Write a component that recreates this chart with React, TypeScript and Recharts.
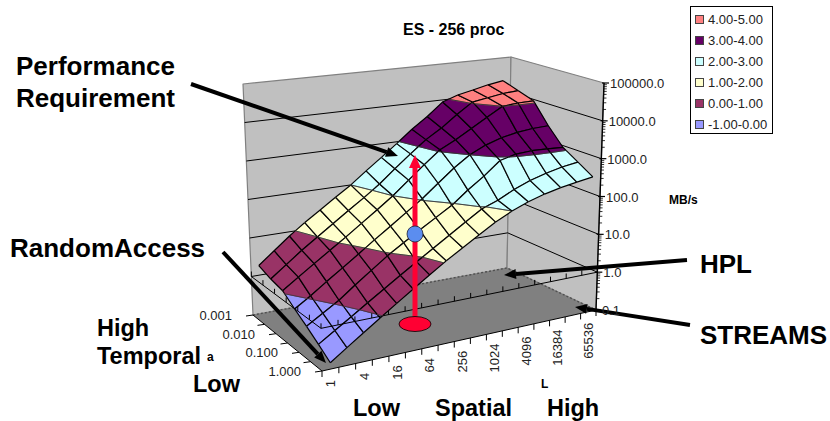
import { Scatter, ScatterChart, XAxis, YAxis } from "recharts";

const WIDTH = 830;
const HEIGHT = 421;

// axis categories
const spatialLabels = ["1", "", "4", "", "16", "", "64", "", "256", "", "1024", "", "4096", "", "16384", "", "65536"];
const temporalLabels = ["1.000", "", "0.100", "", "0.010", "", "0.001"];
const valueLabels = ["0.1", "1.0", "10.0", "100.0", "1000.0", "10000.0", "100000.0"];

// log10(MB/s), one row per temporal step, front (1.000) to back (0.001)
const rowT0 = [-0.85, -0.58, -0.31, -0.04, 0.23, 0.5, 0.77, 1.04, 1.29, 1.54, 1.79, 2.0, 2.17, 2.3, 2.4, 2.48, 2.55];
const rowT1 = [-0.63, -0.38, -0.13, 0.13, 0.39, 0.65, 0.91, 1.17, 1.43, 1.7, 1.96, 2.12, 2.33, 2.5, 2.63, 2.73, 2.8];
const rowT2 = [-0.41, -0.17, 0.07, 0.37, 0.66, 0.95, 1.21, 1.46, 1.71, 1.96, 2.29, 2.59, 2.94, 3.05, 3.08, 3.07, 3.05];
const rowT3 = [-0.2, 0.05, 0.33, 0.6, 0.88, 1.17, 1.45, 1.74, 2.03, 2.37, 2.71, 3.0, 3.2, 3.34, 3.43, 3.48, 3.5];
const rowT4 = [0.04, 0.31, 0.58, 0.85, 1.12, 1.41, 1.7, 2.0, 2.35, 2.7, 3.04, 3.25, 3.5, 3.75, 4.0, 4.04, 4.05];
const rowT5 = [0.12, 0.42, 0.72, 1.0, 1.28, 1.56, 1.84, 2.14, 2.49, 2.83, 3.16, 3.42, 3.74, 4.03, 4.1, 4.17, 4.2];
const rowT6 = [0.25, 0.57, 0.89, 1.18, 1.45, 1.73, 2.0, 2.32, 2.63, 2.95, 3.29, 3.59, 3.94, 4.09, 4.18, 4.28, 4.35];
const rows = [rowT0, rowT1, rowT2, rowT3, rowT4, rowT5, rowT6];

const bandNames = ["4.00-5.00", "3.00-4.00", "2.00-3.00", "1.00-2.00", "0.00-1.00", "-1.00-0.00"];
const bandLows = [4, 3, 2, 1, 0, -1];
const bandColors = ["#ff8080", "#660066", "#ccffff", "#ffffcc", "#993366", "#9999ff"];

// corners of the 3D box on screen: [s, t] = spatial, temporal position
const floorCorners = { a: [322, 371], c: [596, 310], b: [253, 315], d: [507, 268] };
const topCorners = { a: [316, 115], c: [604, 83], b: [243, 84], d: [511, 57] };

const lerp = (p: number, q: number, u: number) => p + (q - p) * u;
const perspective = (s: number) => (s * 1.05) / (1 + 0.05 * s);

function project(s: number, t: number, z: number) {
  const u = perspective(s);
  const h = (z + 1) / 6;
  const corner = (box: typeof floorCorners, i: number) =>
    lerp(lerp(box.a[i], box.c[i], u), lerp(box.b[i], box.d[i], u), t);
  return {
    x: lerp(corner(floorCorners, 0), corner(topCorners, 0), h),
    y: lerp(corner(floorCorners, 1), corner(topCorners, 1), h),
  };
}

const spatialAt = (k: number) => (k + 0.5) / 17;
const temporalAt = (j: number) => j / 6;

type Pt = { x: number; y: number };
type Item = { pts: Pt[]; fill?: string; stroke?: string; width?: number; dash?: string; closed?: boolean };
type V = { s: number; t: number; z: number };

function clipAbove(poly: V[], level: number, keepAbove: boolean) {
  const out: V[] = [];
  const inside = (v: V) => (keepAbove ? v.z >= level : v.z <= level);
  poly.forEach((v, i) => {
    const n = poly[(i + 1) % poly.length];
    if (inside(v)) out.push(v);
    if (inside(v) !== inside(n)) {
      const u = (level - v.z) / (n.z - v.z);
      out.push({ s: lerp(v.s, n.s, u), t: lerp(v.t, n.t, u), z: level });
    }
  });
  return out;
}

const toPt = (v: V) => project(v.s, v.t, v.z);

function surfaceItems(lows: number[]) {
  const items: Item[] = [];
  for (let j = rows.length - 2; j >= 0; j--) {
    for (let k = 0; k < 16; k++) {
      const quad: V[] = [
        { s: spatialAt(k), t: temporalAt(j), z: rows[j][k] },
        { s: spatialAt(k + 1), t: temporalAt(j), z: rows[j][k + 1] },
        { s: spatialAt(k + 1), t: temporalAt(j + 1), z: rows[j + 1][k + 1] },
        { s: spatialAt(k), t: temporalAt(j + 1), z: rows[j + 1][k] },
      ];
      const edges: Item[] = [];
      lows.forEach((lo) => {
        const color = bandColors[bandLows.indexOf(lo)];
        const frag = clipAbove(clipAbove(quad, lo, true), lo + 1, false);
        if (frag.length < 3) return;
        items.push({ pts: frag.map(toPt), fill: color, stroke: color, width: 0.5, closed: true });
        frag.forEach((v, i) => {
          const n = frag[(i + 1) % frag.length];
          const onContour = v.z === n.z && (v.z === lo || v.z === lo + 1);
          edges.push({
            pts: [toPt(v), toPt(n)],
            stroke: onContour ? "#333333" : "#000000",
            width: onContour ? 0.7 : 1.2,
          });
        });
      });
      items.push(...edges);
    }
  }
  return items;
}

function boxItems() {
  const items: Item[] = [];
  // back and right walls
  items.push({
    pts: [project(0, 1, -1), project(0, 1, 5), project(1, 1, 5), project(1, 1, -1)],
    fill: "#c0c0c0",
    stroke: "#808080",
    width: 1.2,
    closed: true,
  });
  items.push({
    pts: [project(1, 1, -1), project(1, 1, 5), project(1, 0, 5), project(1, 0, -1)],
    fill: "#c0c0c0",
    stroke: "#808080",
    width: 1.2,
    closed: true,
  });
  valueLabels.forEach((_, i) => {
    const z = i - 1;
    if (i === 0 || i === 6) return;
    items.push({ pts: [project(0, 1, z), project(1, 1, z), project(1, 0, z)], stroke: "#000000", width: 1 });
  });
  // floor
  items.push({
    pts: [project(0, 0, -1), project(1, 0, -1), project(1, 1, -1), project(0, 1, -1)],
    fill: "#808080",
    closed: true,
  });
  items.push({ pts: [project(0, 1, -1), project(1, 1, -1), project(1, 0, -1)], stroke: "#505050", width: 1.4, dash: "2 2" });
  // front axis edges and ticks
  items.push({ pts: [project(0, 1, -1), project(0, 0, -1), project(1, 0, -1)], stroke: "#000000", width: 1 });
  for (let k = 0; k <= 17; k++) {
    const p = project(k / 17, 0, -1);
    items.push({ pts: [p, { x: p.x, y: p.y + 6 }], stroke: "#000000", width: 1 });
  }
  for (let j = 0; j <= 6; j++) {
    const p = project(0, j / 6, -1);
    items.push({ pts: [p, { x: p.x - 7, y: p.y + 1 }], stroke: "#000000", width: 1 });
  }
  // value axis with log minor ticks
  items.push({ pts: [project(1, 0, -1), project(1, 0, 5)], stroke: "#000000", width: 1.4 });
  valueLabels.forEach((_, i) => {
    const p = project(1, 0, i - 1);
    items.push({ pts: [{ x: p.x - 2, y: p.y }, { x: p.x + 5, y: p.y }], stroke: "#000000", width: 1.2 });
    if (i === 6) return;
    [2, 3, 4, 5, 6, 7, 8, 9].forEach((m) => {
      const q = project(1, 0, i - 1 + Math.log10(m));
      items.push({ pts: [{ x: q.x, y: q.y }, { x: q.x + 3, y: q.y }], stroke: "#000000", width: 0.8 });
    });
  });
  return items;
}

function frameItems() {
  // the 1.0 MB/s outline running round the front of the box
  const items: Item[] = [
    { pts: [project(0, 1, 0), project(0, 0, 0), project(1, 0, 0)], stroke: "#000000", width: 1 },
  ];
  for (let k = 0; k <= 17; k++) {
    const p = project(k / 17, 0, 0);
    items.push({ pts: [p, { x: p.x, y: p.y - 5 }], stroke: "#000000", width: 1 });
  }
  for (let j = 1; j <= 6; j++) {
    const p = project(0, j / 6, 0);
    items.push({ pts: [p, { x: p.x, y: p.y - 5 }], stroke: "#000000", width: 1 });
  }
  return items;
}

function arrowItems(from: Pt, tip: Pt, color: string, width: number, headLen: number, headWide: number) {
  const dx = tip.x - from.x;
  const dy = tip.y - from.y;
  const len = Math.hypot(dx, dy);
  const ux = dx / len;
  const uy = dy / len;
  const base = { x: tip.x - ux * headLen, y: tip.y - uy * headLen };
  return [
    { pts: [from, base], stroke: color, width },
    {
      pts: [
        tip,
        { x: base.x - uy * headWide, y: base.y + ux * headWide },
        { x: base.x + uy * headWide, y: base.y - ux * headWide },
      ],
      fill: color,
      closed: true,
    },
  ] as Item[];
}

const blackArrows = [
  { from: { x: 191, y: 84 }, tip: { x: 398, y: 156 } },
  { from: { x: 223, y: 252 }, tip: { x: 326, y: 363 } },
  { from: { x: 687, y: 260 }, tip: { x: 504, y: 275 } },
  { from: { x: 690, y: 325 }, tip: { x: 575, y: 307 } },
];

const annotations = [
  { x: 16, y: 75, text: "Performance", size: 26 },
  { x: 16, y: 107, text: "Requirement", size: 26 },
  { x: 10, y: 257, text: "RandomAccess", size: 26 },
  { x: 97, y: 336, text: "High", size: 23.5 },
  { x: 97, y: 364, text: "Temporal", size: 23.5 },
  { x: 193, y: 392, text: "Low", size: 23.5 },
  { x: 353, y: 416, text: "Low", size: 23.5 },
  { x: 435, y: 416, text: "Spatial", size: 23.5 },
  { x: 547, y: 416, text: "High", size: 23.5 },
  { x: 700, y: 273, text: "HPL", size: 26 },
  { x: 700, y: 344, text: "STREAMS", size: 26 },
  { x: 403, y: 35, text: "ES - 256 proc", size: 16 },
  { x: 207, y: 361, text: "a", size: 12 },
  { x: 541, y: 388, text: "L", size: 12 },
  { x: 669, y: 204, text: "MB/s", size: 12 },
];

const spatialTicks = spatialLabels
  .map((label, k) => ({ ...project(spatialAt(k), 0, -1), label }))
  .filter((d) => d.label);
const temporalTicks = temporalLabels
  .map((label, j) => ({ ...project(0, temporalAt(j), -1), label }))
  .filter((d) => d.label);
const valueTicks = valueLabels.map((label, i) => ({ ...project(1, 0, i - 1), label }));

const markerEllipse = [{ x: 415, y: 324 }];
const markerCircle = [{ x: 415, y: 234 }];

const FONT = "Liberation Sans, Arial, sans-serif";
const noDot = () => <g />;

// one Scatter whose joint line draws all the outlines, so every point goes through the chart scales
function drawLayer(items: Item[], key: string) {
  const data = items.flatMap((it) => it.pts);
  const renderItems = (props: any) => {
    let at = 0;
    return (
      <g>
        {items.map((it, i) => {
          const pts = props.points.slice(at, at + it.pts.length);
          at += it.pts.length;
          const text = pts.map((p: Pt) => `${p.x},${p.y}`).join(" ");
          const common = {
            points: text,
            fill: it.fill ?? "none",
            stroke: it.stroke ?? "none",
            strokeWidth: it.width ?? 0,
            strokeDasharray: it.dash,
            strokeLinejoin: "round" as const,
          };
          return it.closed ? <polygon key={i} {...common} /> : <polyline key={i} {...common} />;
        })}
      </g>
    );
  };
  return <Scatter key={key} data={data} line={renderItems} shape={noDot} isAnimationActive={false} />;
}

function LegendBox() {
  return (
    <div
      style={{
        position: "absolute",
        left: 690,
        top: 6,
        width: 81,
        height: 126,
        border: "1px solid #000",
        background: "#fff",
        boxSizing: "content-box",
        fontFamily: FONT,
        fontSize: 13,
        color: "#222",
      }}
    >
      {bandNames.map((name, i) => (
        <div key={name} style={{ position: "absolute", left: 4, top: 3.5 + i * 21, height: 17, display: "flex", alignItems: "center", whiteSpace: "nowrap" }}>
          <span style={{ width: 7, height: 7, background: bandColors[i], border: "1px solid #444", marginRight: 4 }} />
          {name}
        </div>
      ))}
    </div>
  );
}

export default function App() {
  return (
    <div style={{ position: "absolute", left: 0, top: 0, width: WIDTH, height: HEIGHT, background: "#fff" }}>
      <ScatterChart width={WIDTH} height={HEIGHT} margin={{ top: 0, right: 0, bottom: 0, left: 0 }}>
        <XAxis type="number" dataKey="x" domain={[0, WIDTH]} hide />
        <YAxis type="number" dataKey="y" domain={[0, HEIGHT]} reversed hide />
        {drawLayer(boxItems(), "box")}
        {drawLayer(surfaceItems([-1]), "low")}
        {drawLayer(frameItems(), "frame")}
        {drawLayer(surfaceItems([0, 1, 2, 3, 4]), "high")}
        {drawLayer(arrowItems({ x: 415, y: 322 }, { x: 415, y: 155 }, "#ff0033", 5, 13, 6), "stem")}
        <Scatter
          data={markerEllipse}
          isAnimationActive={false}
          shape={(p: any) => <ellipse cx={p.cx} cy={p.cy} rx={16} ry={7.5} fill="#ff0033" stroke="#000" strokeWidth={0.8} />}
        />
        <Scatter
          data={markerCircle}
          isAnimationActive={false}
          shape={(p: any) => <circle cx={p.cx} cy={p.cy} r={8} fill="#5b8def" stroke="#223" strokeWidth={0.8} />}
        />
        {blackArrows.map((a, i) => drawLayer(arrowItems(a.from, a.tip, "#000000", 4, 12, 5), `arrow${i}`))}
        <Scatter
          data={spatialTicks}
          isAnimationActive={false}
          shape={(p: any) => (
            <text
              x={p.cx}
              y={p.cy + 11}
              dy="0.35em"
              transform={`rotate(-90 ${p.cx} ${p.cy + 11})`}
              textAnchor="end"
              fontFamily={FONT}
              fontSize={13}
              fill="#222"
            >
              {p.payload.label}
            </text>
          )}
        />
        <Scatter
          data={temporalTicks}
          isAnimationActive={false}
          shape={(p: any) => (
            <text x={p.cx - 21} y={p.cy + 5} textAnchor="end" fontFamily={FONT} fontSize={13} fill="#222">
              {p.payload.label}
            </text>
          )}
        />
        <Scatter
          data={valueTicks}
          isAnimationActive={false}
          shape={(p: any) => (
            <text x={p.cx + 6} y={p.cy + 5} fontFamily={FONT} fontSize={13} fill="#222">
              {p.payload.label}
            </text>
          )}
        />
        <Scatter
          data={annotations}
          isAnimationActive={false}
          shape={(p: any) => (
            <text x={p.cx} y={p.cy} fontFamily={FONT} fontWeight="bold" fontSize={p.payload.size} fill="#000">
              {p.payload.text}
            </text>
          )}
        />
      </ScatterChart>
      <LegendBox />
    </div>
  );
}
